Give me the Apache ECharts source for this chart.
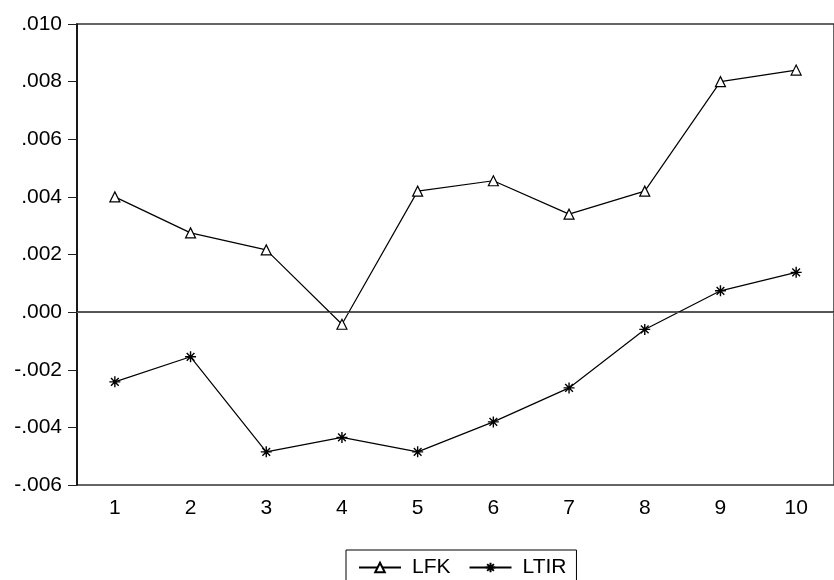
<!DOCTYPE html>
<html>
<head>
<meta charset="utf-8">
<script src="https://cdn.jsdelivr.net/npm/echarts@6/dist/echarts.min.js"></script>
<style>
  html, body { margin: 0; padding: 0; background: #fff; }
  #chart { width: 834px; height: 580px; }
</style>
</head>
<body>
<div id="chart"></div>
<script>
var periods = ['1', '2', '3', '4', '5', '6', '7', '8', '9', '10'];
var lfk = [0.0040, 0.00275, 0.00216, -0.00042, 0.0042, 0.00456, 0.0034, 0.0042, 0.0080, 0.0084];
var ltir = [-0.00242, -0.00155, -0.00485, -0.00435, -0.00485, -0.00381, -0.00263, -0.00060, 0.00074, 0.00138];

var starPath = 'path://M5,0L5,10M0,5L10,5M1.5,1.5L8.5,8.5M1.5,8.5L8.5,1.5';
var font = 'Liberation Sans, Arial, sans-serif';

var chart = echarts.init(document.getElementById('chart'));
var option = {
    animation: false,
    backgroundColor: '#fff',
    grid: {
        left: 77,
        top: 24,
        width: 768,
        height: 461,
        show: true,
        borderColor: '#333',
        borderWidth: 1.5
    },
    legend: {
        left: 346,
        top: 550,
        padding: [7, 10, 7, 12],
        itemWidth: 42,
        itemHeight: 12,
        itemGap: 18,
        borderColor: '#000',
        borderWidth: 1,
        textStyle: { fontFamily: font, fontSize: 21, color: '#000', padding: [0, 0, 0, 6] },
        data: ['LFK', 'LTIR']
    },
    xAxis: {
        type: 'category',
        data: periods,
        axisLine: { lineStyle: { color: '#222', width: 1.5 } },
        axisTick: { length: 9, lineStyle: { color: '#222' } },
        axisLabel: { margin: 13, fontFamily: font, fontSize: 21, color: '#000' },
        splitLine: { show: false }
    },
    yAxis: {
        type: 'value',
        min: -0.006,
        max: 0.010,
        interval: 0.002,
        axisLine: { show: true, lineStyle: { color: '#000', width: 1.5 } },
        axisTick: { show: true, length: 9, lineStyle: { color: '#222' } },
        axisLabel: {
            margin: 15,
            fontFamily: font,
            fontSize: 21,
            color: '#000',
            formatter: function (v) {
                return v.toFixed(3).replace('0.', '.');
            }
        },
        splitLine: { show: false }
    },
    series: [{
        name: 'LFK',
        type: 'line',
        data: lfk,
        symbol: 'triangle',
        symbolSize: [10, 10],
        showAllSymbol: true,
        itemStyle: { color: '#fff', borderColor: '#000', borderWidth: 1.2 },
        lineStyle: { color: '#000', width: 1.2 },
        markLine: {
            silent: true,
            symbol: 'none',
            label: { show: false },
            lineStyle: { color: '#555', width: 1, type: 'solid' },
            data: [{ yAxis: 0 }]
        }
    }, {
        name: 'LTIR',
        type: 'line',
        data: ltir,
        symbol: starPath,
        symbolSize: [11, 11],
        showAllSymbol: true,
        itemStyle: { color: '#000', borderColor: '#000', borderWidth: 1.4 },
        lineStyle: { color: '#000', width: 1.2 }
    }]
};
chart.setOption(option);
</script>
</body>
</html>
